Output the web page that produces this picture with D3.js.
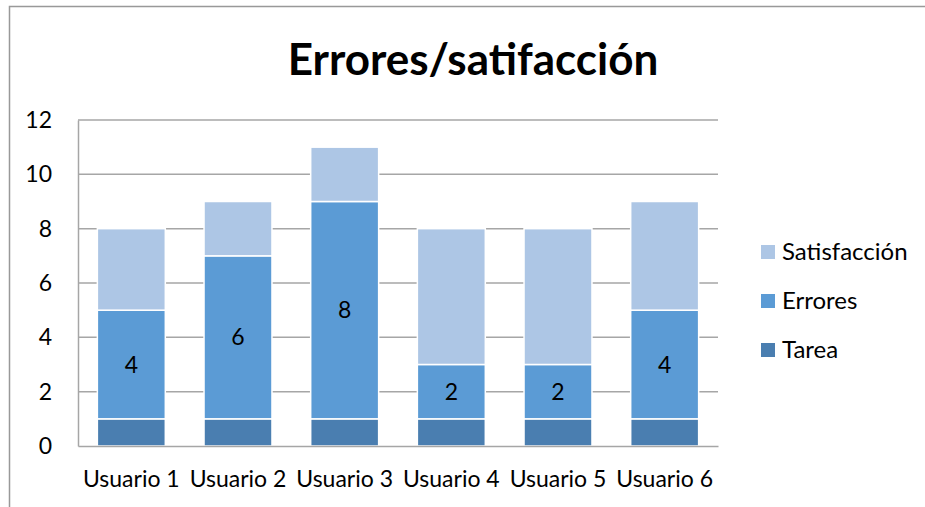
<!DOCTYPE html>
<html>
<head>
<meta charset="utf-8">
<script src="https://cdn.jsdelivr.net/npm/d3@7"></script>
<style>
  body { margin: 0; background: #fff; }
  svg { display: block; font-family: Lato, "Open Sans", sans-serif; }
</style>
</head>
<body>
<svg id="chart" width="925" height="507"></svg>
<script>
// datos
var usuarios = ["Usuario 1", "Usuario 2", "Usuario 3", "Usuario 4", "Usuario 5", "Usuario 6"];
var tarea = [1, 1, 1, 1, 1, 1];
var errores = [4, 6, 8, 2, 2, 4];
var satisfaccion = [3, 2, 2, 5, 5, 4];
var series = ["Tarea", "Errores", "Satisfacción"];
var colores = ["#4a7eb0", "#5b9bd5", "#adc6e5"];
var yTicks = [0, 2, 4, 6, 8, 10, 12];

var svg = d3.select("#chart");
var plot = { left: 78, top: 120, width: 640, height: 326 };

// borde del area del grafico
svg.append("rect")
    .attr("x", 9.5).attr("y", 6.5)
    .attr("width", 940).attr("height", 520)
    .attr("fill", "none").attr("stroke", "#999").attr("stroke-width", 1.5);

svg.append("text")
    .attr("x", 473).attr("y", 75)
    .attr("text-anchor", "middle")
    .style("font-size", "44px").style("font-weight", "bold")
    .text("Errores/satifacción");

var x = d3.scaleBand().domain(usuarios).range([0, plot.width])
    .paddingInner(0.363).paddingOuter(0.1815);
var y = d3.scaleLinear().domain([0, 12]).range([plot.height, 0]);

var g = svg.append("g")
    .attr("transform", "translate(" + plot.left + "," + plot.top + ")");

// lineas de division
g.append("g").selectAll("line")
    .data(yTicks.filter(d => d > 0))
    .enter().append("line")
    .attr("x1", 0).attr("x2", plot.width)
    .attr("y1", d => y(d)).attr("y2", d => y(d))
    .style("stroke", "#a6a6a6").style("stroke-width", 1.5);

// apilado
var tabla = usuarios.map((u, i) => ({ usuario: u, Tarea: tarea[i], Errores: errores[i], "Satisfacción": satisfaccion[i] }));
var stack = d3.stack().keys(series)(tabla);

var capas = g.append("g").selectAll("g")
    .data(stack)
    .enter().append("g")
    .attr("fill", (d, i) => colores[i]);

capas.selectAll("rect")
    .data(d => d)
    .enter().append("rect")
    .attr("x", d => x(d.data.usuario))
    .attr("y", d => y(d[1]))
    .attr("width", x.bandwidth())
    .attr("height", d => y(d[0]) - y(d[1]))
    .attr("stroke", "#fff").attr("stroke-width", 1.5);

// etiquetas de errores
g.append("g").selectAll("text")
    .data(stack[1])
    .enter().append("text")
    .attr("x", d => x(d.data.usuario) + x.bandwidth() / 2)
    .attr("y", d => (y(d[0]) + y(d[1])) / 2)
    .attr("dy", "0.35em")
    .attr("text-anchor", "middle")
    .style("font-size", "23px")
    .text(d => d.data.Errores);

// ejes
var yAxis = d3.axisLeft(y).tickValues(yTicks).tickSize(0).tickPadding(26);
var gy = g.append("g").call(yAxis).attr("font-family", null).attr("font-size", null);
gy.select(".domain").attr("stroke", "#a6a6a6").attr("stroke-width", 1.5);
gy.selectAll("text").style("font-size", "23px").attr("fill", "#000");

var xAxis = d3.axisBottom(x).tickSize(0).tickPadding(25);
var gx = g.append("g").attr("transform", "translate(0," + plot.height + ")").call(xAxis)
    .attr("font-family", null).attr("font-size", null);
gx.select(".domain").attr("stroke", "#a6a6a6").attr("stroke-width", 1.5);
gx.selectAll("text").style("font-size", "23px").attr("fill", "#000");

// leyenda
var leyenda = svg.append("g").selectAll("g")
    .data(series.slice().reverse())
    .enter().append("g")
    .attr("transform", (d, i) => "translate(761," + (252 + i * 49) + ")");
leyenda.append("rect")
    .attr("x", 0).attr("y", -7).attr("width", 14).attr("height", 14)
    .attr("fill", d => colores[series.indexOf(d)]);
leyenda.append("text")
    .attr("x", 21).attr("y", 0).attr("dy", "0.35em")
    .style("font-size", "24px")
    .text(d => d);
</script>
</body>
</html>
